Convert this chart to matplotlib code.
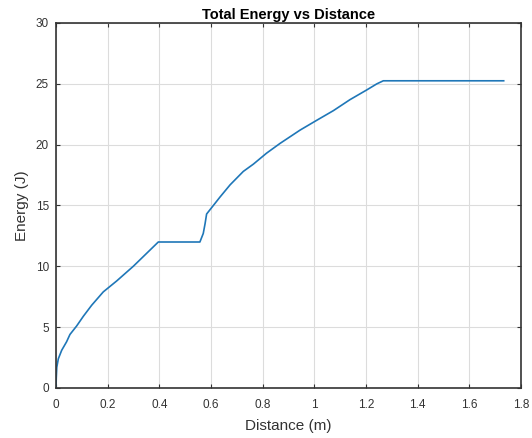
import matplotlib
matplotlib.use("Agg")
import matplotlib.pyplot as plt

distance = [0.0, 0.001, 0.003, 0.009, 0.022, 0.041, 0.054, 0.080, 0.106, 0.138, 0.183,
            0.235, 0.299, 0.396, 0.557, 0.570, 0.577, 0.583, 0.609, 0.635, 0.674,
            0.725, 0.764, 0.815, 0.867, 0.945, 1.009, 1.074, 1.138, 1.203, 1.242,
            1.267, 1.733]
energy = [0.0, 0.8, 1.7, 2.4, 3.1, 3.8, 4.4, 5.1, 5.9, 6.8, 7.9,
          8.8, 10.0, 12.0, 12.0, 12.7, 13.5, 14.3, 15.0, 15.7, 16.7,
          17.8, 18.4, 19.3, 20.1, 21.2, 22.0, 22.8, 23.7, 24.5, 25.0,
          25.25, 25.25]

xticks = [0, 0.2, 0.4, 0.6, 0.8, 1, 1.2, 1.4, 1.6, 1.8]
xticklabels = ["0", "0.2", "0.4", "0.6", "0.8", "1", "1.2", "1.4", "1.6", "1.8"]
yticks = [0, 5, 10, 15, 20, 25, 30]

plt.rcParams['font.family'] = ['Liberation Sans', 'DejaVu Sans']

fig = plt.figure(figsize=(5.32, 4.38), dpi=100)
ax = fig.add_axes([56/532, 1-388/438, (521-56)/532, (388-23)/438])
ax.plot(distance, energy, color='#1f77b8', lw=1.2)
ax.set_xlim(0, 1.8)
ax.set_ylim(0, 30)
ax.set_xticks(xticks)
ax.set_xticklabels(xticklabels)
ax.set_yticks(yticks)
ax.grid(True, color='#dcdcdc', lw=0.8)
ax.set_axisbelow(True)
for s in ax.spines.values():
    s.set_color('#333333')
    s.set_linewidth(1.2)
ax.tick_params(direction='in', length=3, width=0.8, colors='#333333',
               labelcolor='#333333', labelsize=8.5, top=True, right=True)
ax.tick_params(axis='x', pad=8)
ax.tick_params(axis='y', pad=5)
ax.set_title('Total Energy vs Distance', fontsize=10.5, fontweight='bold', pad=3)
ax.set_xlabel('Distance (m)', fontsize=11, color='#333333', labelpad=6)
ax.set_ylabel('Energy (J)', fontsize=11, color='#333333', labelpad=5)
fig.savefig('out.png', dpi=100)
